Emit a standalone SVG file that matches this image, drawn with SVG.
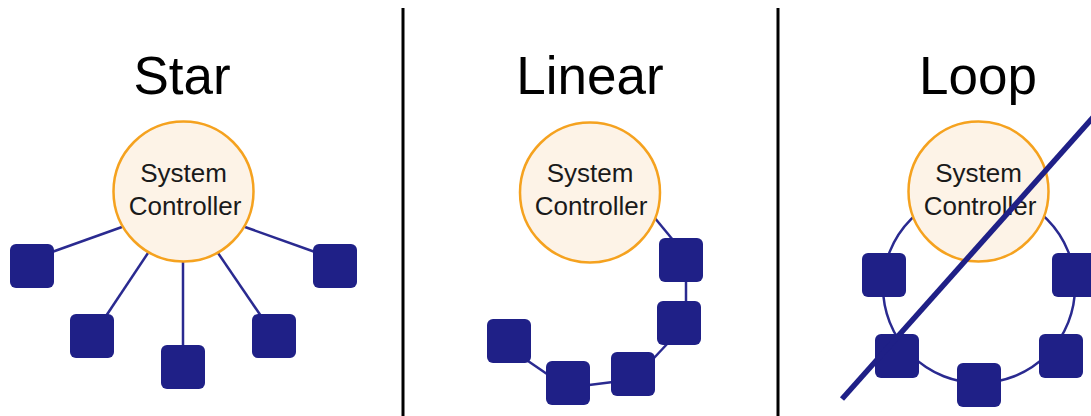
<svg xmlns="http://www.w3.org/2000/svg" width="1091" height="416" viewBox="0 0 1091 416">
<style>
.title{font-family:"Liberation Sans",Arial,sans-serif;font-size:53px;fill:#000;text-anchor:middle}
.ctl{fill:#fdf3e7;stroke:#f5a21f;stroke-width:2.5}
.lbl{font-family:"Liberation Sans",Arial,sans-serif;font-size:26px;fill:#1a1a1a;text-anchor:middle}
.dev{fill:#1f2087}
.wire{stroke:#2a2a90;stroke-width:2.5;fill:none}
.div{stroke:#000;stroke-width:3}
</style>
<rect width="1091" height="416" fill="#fff"/>
<g id="dividers">
<line class="div" x1="403" y1="8" x2="403" y2="416"/>
<line class="div" x1="778" y1="8" x2="778" y2="416"/>
</g>
<g id="titles">
<text class="title" x="182" y="94">Star</text>
<text class="title" x="590" y="94">Linear</text>
<text class="title" x="978" y="94">Loop</text>
</g>
<g id="connectors">
<line class="wire" x1="122" y1="227" x2="52" y2="252"/>
<line class="wire" x1="148" y1="253" x2="106" y2="316"/>
<line class="wire" x1="183" y1="262" x2="183" y2="346"/>
<line class="wire" x1="218" y1="253" x2="261" y2="316"/>
<line class="wire" x1="245" y1="227" x2="315" y2="252"/>
<line class="wire" x1="654" y1="217" x2="673" y2="240"/>
<line class="wire" x1="686" y1="281" x2="686" y2="302"/>
<line class="wire" x1="668" y1="343" x2="654" y2="358"/>
<line class="wire" x1="613" y1="382" x2="589" y2="385"/>
<line class="wire" x1="528" y1="361" x2="547" y2="374"/>
<circle class="wire" cx="979" cy="287" r="96"/>
</g>
<g id="star">
<g id="star-controller"><circle class="ctl" cx="183.5" cy="191.5" r="70"/><text class="lbl" x="183.5" y="182">System</text><text class="lbl" x="185" y="215">Controller</text></g>
<rect id="star-d1" class="dev" x="10" y="244" width="44" height="44" rx="6"/>
<rect id="star-d2" class="dev" x="70" y="314" width="44" height="44" rx="6"/>
<rect id="star-d3" class="dev" x="161" y="345" width="44" height="44" rx="6"/>
<rect id="star-d4" class="dev" x="252" y="314" width="44" height="44" rx="6"/>
<rect id="star-d5" class="dev" x="313" y="244" width="44" height="44" rx="6"/>
</g>
<g id="linear">
<g id="linear-controller"><circle class="ctl" cx="590" cy="192.5" r="70"/><text class="lbl" x="590" y="182">System</text><text class="lbl" x="591" y="215">Controller</text></g>
<rect id="linear-d1" class="dev" x="659" y="238" width="44" height="44" rx="6"/>
<rect id="linear-d2" class="dev" x="657" y="301" width="44" height="44" rx="6"/>
<rect id="linear-d3" class="dev" x="611" y="352" width="44" height="44" rx="6"/>
<rect id="linear-d4" class="dev" x="546" y="361" width="44" height="44" rx="6"/>
<rect id="linear-d5" class="dev" x="487" y="319" width="44" height="44" rx="6"/>
</g>
<g id="loop">
<g id="loop-controller"><circle class="ctl" cx="978.5" cy="191.5" r="70"/><text class="lbl" x="978.5" y="182">System</text><text class="lbl" x="980" y="215">Controller</text></g>
<rect id="loop-d1" class="dev" x="862" y="253" width="44" height="44" rx="6"/>
<rect id="loop-d2" class="dev" x="1052" y="253" width="44" height="44" rx="6"/>
<rect id="loop-d3" class="dev" x="875" y="334" width="44" height="44" rx="6"/>
<rect id="loop-d4" class="dev" x="957" y="363" width="44" height="44" rx="6"/>
<rect id="loop-d5" class="dev" x="1039" y="334" width="44" height="44" rx="6"/>
<line id="loop-strike" x1="842" y1="399" x2="1097" y2="113" stroke="#1f2087" stroke-width="5.5"/>
</g>
</svg>
